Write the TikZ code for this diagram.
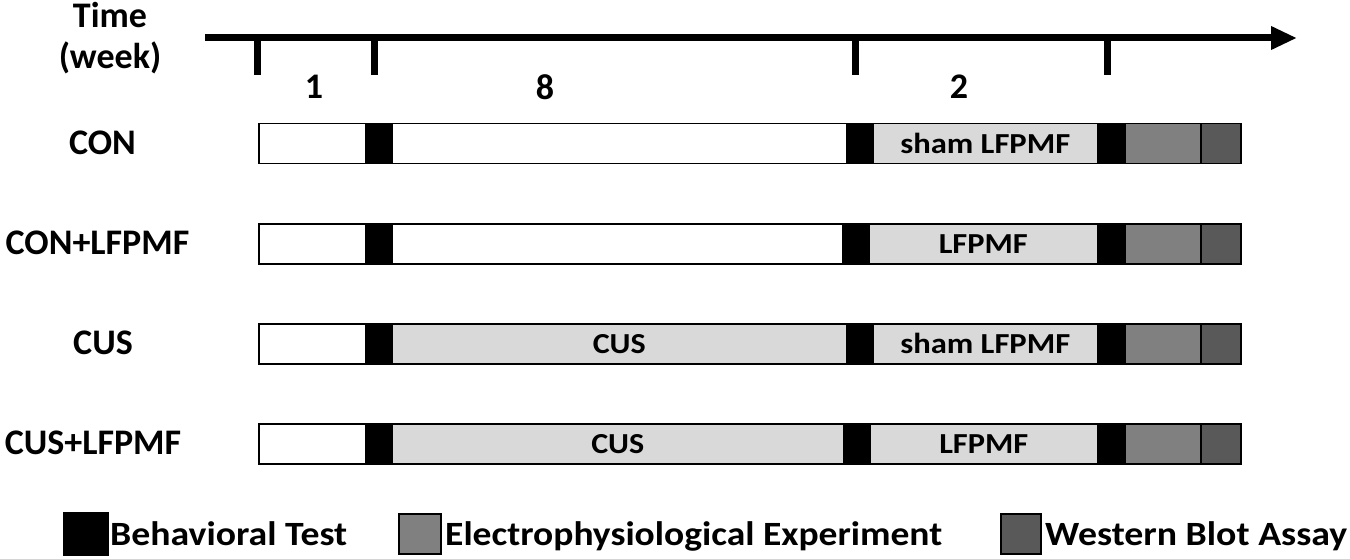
\documentclass[tikz,border=0pt]{standalone}
\usepackage{fontspec}
\setmainfont{Carlito}
\usetikzlibrary{arrows.meta}
\definecolor{lightg}{HTML}{D9D9D9}
\definecolor{midg}{HTML}{808080}
\definecolor{darkg}{HTML}{595959}
\begin{document}
\begin{tikzpicture}[x=1pt,y=-1pt,
  lbl/.style={font=\fontsize{36}{40}\selectfont\bfseries, inner sep=0pt, anchor=center},
  bartxt/.style={font=\fontsize{29}{32}\selectfont\bfseries, inner sep=0pt},
  legtxt/.style={font=\fontsize{34}{38}\selectfont\bfseries, inner sep=0pt, anchor=base west},
  seg/.style={draw=black, line width=1.5pt, minimum height=40pt, inner sep=0pt, anchor=north west},
  key/.style={draw=black, line width=2pt, inner sep=0pt, anchor=north west},
  axis/.style={line width=7pt},
  tick/.style={line width=7pt}]
\useasboundingbox (0,0) rectangle (1350,559);
% time axis
\coordinate (a0) at (205,38);
\coordinate (a1) at (1297,38);
\draw[axis, -{Triangle[length=26pt,width=22pt]}] (a0) -- (a1);
\foreach \x/\n in {257.5/t1, 374/t2, 855.5/t3, 1107/t4} {
  \coordinate (\n) at (\x,36);
  \coordinate (\n b) at (\x,75);
  \draw[tick] (\n) -- (\n b);
}
\node[lbl] (time) at (110,15) {Time};
\node[lbl] (week) at (110,58) {(week)};
\node[lbl] (n1) at (314,87) {1};
\node[lbl] (n8) at (545,87) {8};
\node[lbl] (n2) at (959,87) {2};
% rows
\newcommand{\mkrow}[8]{%
  \node[lbl] (#1lab) at (#8,#2+20) {#7};
  \node[seg, fill=white, minimum width=107pt] (#1w) at (258,#2) {};
  \node[seg, fill=black, minimum width=26pt] (#1b1) at (365,#2) {};
  \node[seg, fill=#4, minimum width={(#3-391)*1pt}] (#1m) at (391,#2) {};
  \node[seg, fill=black, minimum width=26pt] (#1b2) at (#3,#2) {};
  \node[seg, fill=lightg, minimum width={(1097-#3-26)*1pt}] (#1s) at (#3+26,#2) {};
  \node[seg, fill=black, minimum width=27pt] (#1b3) at (1097,#2) {};
  \node[seg, fill=midg, minimum width=76pt] (#1e) at (1124,#2) {};
  \node[seg, fill=darkg, minimum width=40pt] (#1wb) at (1200,#2) {};
  \node[bartxt] (#1mt) at (#1m.center) {#5};
  \node[bartxt] (#1st) at (#1s.center) {#6};
}
\mkrow{r1}{123}{846}{white}{}{\resizebox{170pt}{\height}{sham LFPMF}}{CON}{102.5}
\mkrow{r2}{223}{842}{white}{}{\resizebox{89pt}{\height}{LFPMF}}{CON+LFPMF}{97.5}
\mkrow{r3}{323}{846}{lightg}{\resizebox{53pt}{\height}{CUS}}{\resizebox{170pt}{\height}{sham LFPMF}}{CUS}{103}
\mkrow{r4}{423}{843}{lightg}{\resizebox{53pt}{\height}{CUS}}{\resizebox{89pt}{\height}{LFPMF}}{CUS+LFPMF}{93}
% legend
\node[key, fill=black, line width=0.5pt, minimum width=45pt, minimum height=43pt] (k1) at (63,512) {};
\node[legtxt] (l1) at (110,545) {\resizebox{237pt}{\height}{Behavioral Test}};
\node[key, fill=midg, minimum width=42pt, minimum height=40pt] (k2) at (398,513) {};
\node[legtxt] (l2) at (445,545) {\resizebox{497pt}{\height}{Electrophysiological Experiment}};
\node[key, fill=darkg, minimum width=40pt, minimum height=40pt] (k3) at (1000,513) {};
\node[legtxt] (l3) at (1045,545) {\resizebox{302pt}{\height}{Western Blot Assay}};
\end{tikzpicture}
\end{document}
